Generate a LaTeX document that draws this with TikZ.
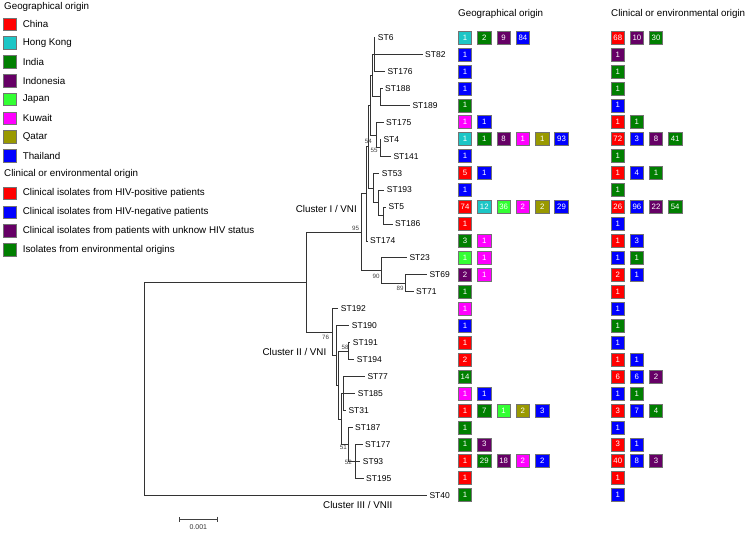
\documentclass[tikz,border=0pt]{standalone}
\usepackage{fontspec}
\setmainfont{Liberation Sans}
\usetikzlibrary{positioning, arrows.meta}
\definecolor{china}{HTML}{FF0000}
\definecolor{hongkong}{HTML}{1CC6C6}
\definecolor{india}{HTML}{007F00}
\definecolor{indonesia}{HTML}{660066}
\definecolor{japan}{HTML}{33FF33}
\definecolor{kuwait}{HTML}{FF00FF}
\definecolor{qatar}{HTML}{999900}
\definecolor{thailand}{HTML}{0000FF}
\colorlet{hivpos}{china}
\colorlet{hivneg}{thailand}
\colorlet{hivunk}{indonesia}
\colorlet{environ}{india}
\begin{document}
\begin{tikzpicture}[x=1pt, y=-1pt,
  branch/.style={line width=0.75pt, black!80},
  leaf/.style={anchor=west, inner xsep=2.5pt, inner ysep=0pt, font=\fontsize{8.5}{9}\selectfont},
  boot/.style={inner sep=0pt, font=\fontsize{6.2}{7}\selectfont, text=black!75},
  clade/.style={inner sep=0pt, font=\fontsize{9.8}{11}\selectfont},
  cnt/.style={draw=black!55, line width=0.6pt, minimum width=13.5pt, minimum height=13pt,
              inner sep=0pt, text=white, font=\fontsize{7.8}{8}\selectfont},
  legsq/.style={draw=black!55, line width=0.6pt, minimum width=13pt, minimum height=12.5pt, inner sep=0pt},
  legtxt/.style={anchor=west, inner sep=0pt, font=\fontsize{9.8}{11}\selectfont},
]
  \useasboundingbox (0,0) rectangle (748,533);

  % legend
  \node[legtxt] (hgeo) at (4,6.7) {Geographical origin};
  \foreach \c/\t [count=\i from 0] in {china/China, hongkong/Hong Kong, india/India,
      indonesia/Indonesia, japan/Japan, kuwait/Kuwait, qatar/Qatar, thailand/Thailand} {
    \node[legsq, fill=\c] (lg\i) at (10,{24.2+18.8*\i}) {};
    \node[legtxt, right=5.8pt of lg\i] (lgt\i) {\t};
  }
  \node[legtxt] (hclin) at (4,174.3) {Clinical or environmental origin};
  \foreach \c/\t [count=\i from 0] in {hivpos/Clinical isolates from HIV-positive patients,
      hivneg/Clinical isolates from HIV-negative patients,
      hivunk/Clinical isolates from patients with unknow HIV status,
      environ/Isolates from environmental origins} {
    \node[legsq, fill=\c] (lc\i) at (10,{193.3+18.85*\i}) {};
    \node[legtxt, right=5.8pt of lc\i] (lct\i) {\t};
  }

  % leaves, one row each
  \foreach \n/\x [count=\i from 0] in {ST6/375.2, ST82/422.5, ST176/384.8, ST188/382.5,
      ST189/409.8, ST175/383.5, ST4/380.8, ST141/390.8, ST53/379.2, ST193/384.2, ST5/385.8,
      ST186/392.5, ST174/367.5, ST23/406.8, ST69/426.8, ST71/413.5, ST192/338.2, ST190/349.2,
      ST191/350.2, ST194/354.2, ST77/364.8, ST185/355.2, ST31/345.8, ST187/352.5,
      ST177/362.5, ST93/360.2, ST195/363.5, ST40/426.8}
    \node[leaf] (\n) at (\x,{37.5+16.95*\i}) {\n};

  % internal nodes
  \coordinate (V0) at (374.3,54.45);
  \coordinate (V1) at (380.7,96.83);
  \coordinate (V2) at (372.3,75.64);
  \coordinate (P) at (380,147.68);
  \coordinate (Q) at (376.7,134.96);
  \coordinate (V3) at (370,105.3);
  \coordinate (S1) at (383.3,215.48);
  \coordinate (S2) at (378.3,202.76);
  \coordinate (S3) at (373.3,187.93);
  \coordinate (V4) at (368.3,146.62);
  \coordinate (A) at (366,193.76);
  \coordinate (C) at (405,283.28);
  \coordinate (B) at (381.7,270.56);
  \coordinate (C1) at (361.7,232.16);
  \coordinate (W1) at (355,461.25);
  \coordinate (W0) at (348.3,444.3);
  \coordinate (G) at (343.5,393.45);
  \coordinate (W00) at (341.2,418.88);
  \coordinate (M1) at (348.3,351.08);
  \coordinate (L2) at (338.8,384.98);
  \coordinate (L) at (336.5,355.31);
  \coordinate (K) at (332.3,332);
  \coordinate (X) at (306.7,282.08);
  \coordinate (R) at (144,388.6);

  \foreach \p/\c in {V0/ST6, V0/ST82, V0/ST176, V1/ST188, V1/ST189, V2/V0, V2/V1,
      P/ST4, P/ST141, Q/ST175, Q/P, V3/V2, V3/Q, S1/ST5, S1/ST186, S2/ST193, S2/S1,
      S3/ST53, S3/S2, V4/V3, V4/S3, A/V4, A/ST174, C/ST69, C/ST71, B/ST23, B/C,
      C1/A, C1/B, W1/ST177, W1/ST93, W1/ST195, W0/ST187, W0/W1, G/ST77, G/ST185,
      G/ST31, W00/G, W00/W0, M1/ST191, M1/ST194, L2/M1, L2/W00, L/ST190, L/L2,
      K/ST192, K/L, X/C1, X/K, R/X, R/ST40}
    \draw[branch] (\p) |- (\c);

  % bootstrap values
  \node[boot] (bs95) at (355.5,228.5) {95};
  \node[boot] (bs90) at (376,276.7) {90};
  \node[boot] (bs89) at (400,288.3) {89};
  \node[boot] (bs54) at (368.3,141.7) {54};
  \node[boot] (bs55) at (374,150) {55};
  \node[boot] (bs76) at (325.5,337.3) {76};
  \node[boot] (bs58) at (345,347.5) {58};
  \node[boot] (bs51) at (343.3,447.3) {51};
  \node[boot] (bs52) at (348.3,462.3) {52};

  \node[clade, anchor=east] (cl1) at (357,209.3) {Cluster I / VNI};
  \node[clade, anchor=east] (cl2) at (326.5,351.7) {Cluster II / VNI};
  \node[clade] (cl3) at (357.8,505) {Cluster III / VNII};

  % scale bar
  \coordinate (sbl) at (179.3,519);
  \coordinate (sbr) at (217.3,519);
  \draw[line width=0.7pt, black!75, {Bar[width=5pt]}-{Bar[width=5pt]}] (sbl) -- (sbr);
  \node[inner sep=0pt, font=\fontsize{7}{8}\selectfont, text=black!80] (sblab) at (198.3,527.5) {0.001};

  % count boxes
  \node[legtxt] (hgeo2) at (458,14) {Geographical origin};
  \node[legtxt] (hclin2) at (611,14) {Clinical or environmental origin};
  \foreach \r/\l in {0/{hongkong/1,india/2,indonesia/9,thailand/84}, 1/{thailand/1},
      2/{thailand/1}, 3/{thailand/1}, 4/{india/1}, 5/{kuwait/1,thailand/1},
      6/{hongkong/1,india/1,indonesia/8,kuwait/1,qatar/1,thailand/93}, 7/{thailand/1},
      8/{china/5,thailand/1}, 9/{thailand/1},
      10/{china/74,hongkong/12,japan/36,kuwait/2,qatar/2,thailand/29}, 11/{china/1},
      12/{india/3,kuwait/1}, 13/{japan/1,kuwait/1}, 14/{indonesia/2,kuwait/1},
      15/{india/1}, 16/{kuwait/1}, 17/{thailand/1}, 18/{china/1}, 19/{china/2},
      20/{india/14}, 21/{kuwait/1,thailand/1},
      22/{china/1,india/7,japan/1,qatar/2,thailand/3}, 23/{india/1},
      24/{india/1,indonesia/3}, 25/{china/1,india/29,indonesia/18,kuwait/2,thailand/2},
      26/{china/1}, 27/{india/1}}
    \foreach \c/\v [count=\k from 0] in \l
      \node[cnt, fill=\c] (g\r-\k) at ({465+19.3*\k},{37.5+16.95*\r}) {\v};
  \foreach \r/\l in {0/{hivpos/68,hivunk/10,environ/30}, 1/{hivunk/1}, 2/{environ/1},
      3/{environ/1}, 4/{hivneg/1}, 5/{hivpos/1,environ/1},
      6/{hivpos/72,hivneg/3,hivunk/8,environ/41}, 7/{environ/1},
      8/{hivpos/1,hivneg/4,environ/1}, 9/{environ/1},
      10/{hivpos/26,hivneg/96,hivunk/22,environ/54}, 11/{hivneg/1},
      12/{hivpos/1,hivneg/3}, 13/{hivneg/1,environ/1}, 14/{hivpos/2,hivneg/1},
      15/{hivpos/1}, 16/{hivneg/1}, 17/{environ/1}, 18/{hivneg/1},
      19/{hivpos/1,hivneg/1}, 20/{hivpos/6,hivneg/6,hivunk/2}, 21/{hivneg/1,environ/1},
      22/{hivpos/3,hivneg/7,environ/4}, 23/{hivneg/1}, 24/{hivpos/3,hivneg/1},
      25/{hivpos/40,hivneg/8,hivunk/3}, 26/{hivpos/1}, 27/{hivneg/1}}
    \foreach \c/\v [count=\k from 0] in \l
      \node[cnt, fill=\c] (c\r-\k) at ({617.8+19.1*\k},{37.5+16.95*\r}) {\v};
\end{tikzpicture}
\end{document}
